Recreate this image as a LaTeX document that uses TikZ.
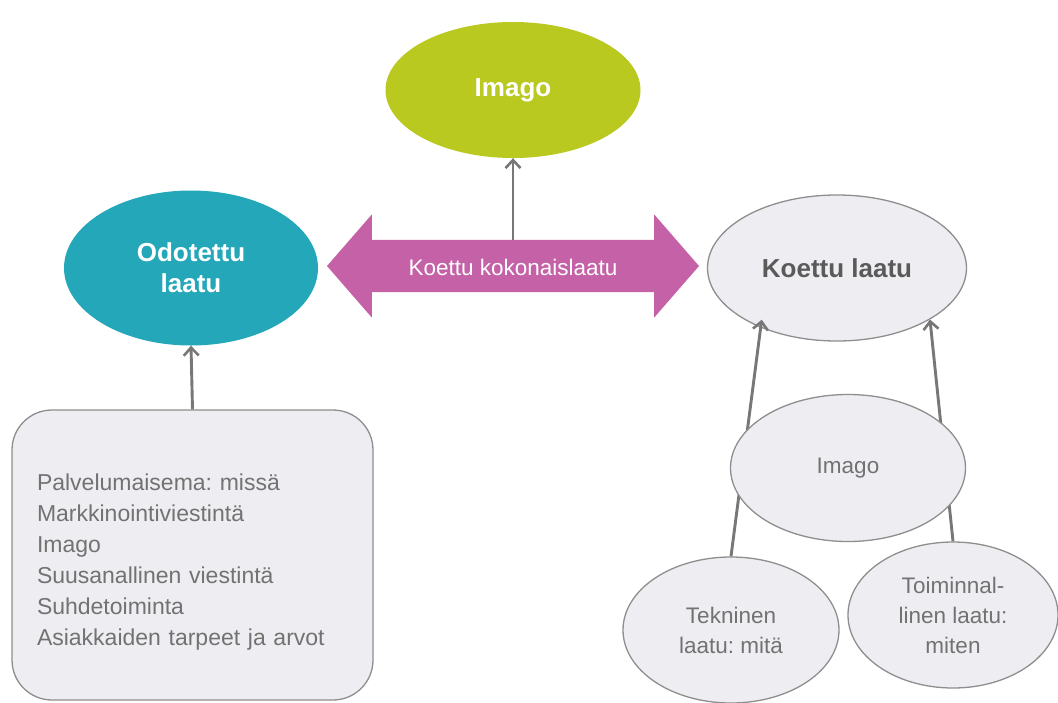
\documentclass[tikz,border=0pt]{standalone}
\usepackage{fontspec}
\setmainfont{Liberation Sans}
\frenchspacing
\usetikzlibrary{shapes.geometric,shapes.arrows,arrows.meta}
\definecolor{imagogreen}{HTML}{B9C920}
\definecolor{odotteal}{HTML}{25A7BA}
\definecolor{kokpink}{HTML}{C561A6}
\definecolor{ellgray}{HTML}{EEEEF2}
\definecolor{bordgray}{HTML}{8E8E8E}
\definecolor{linegray}{HTML}{777777}
\definecolor{textgray}{HTML}{727272}
\definecolor{darkgray}{HTML}{5A5A5A}
\tikzset{
    conn/.style={draw=linegray, line width=2.9pt, -{Straight Barb[length=8pt,width=15pt,line width=2.6pt]}},
    bigell/.style={ellipse, inner sep=0pt, text=white, align=center,
        font=\bfseries\fontsize{26}{31}\selectfont},
    greyell/.style={ellipse, fill=ellgray, draw=bordgray, line width=1.3pt, inner sep=0pt,
        text=textgray, align=center, font=\fontsize{22.5}{30}\selectfont},
    infobox/.style={rectangle, rounded corners=40pt, fill=ellgray, draw=bordgray, line width=1.3pt,
        minimum width=361pt, minimum height=290pt, text width=311pt, inner xsep=25pt,
        text height=31pt, align=left, text=textgray, font=\fontsize{23}{31}\selectfont},
}
\begin{document}
\begin{tikzpicture}[x=1pt, y=-1pt]
    \useasboundingbox (0,0) rectangle (1058,702);
    % top row
    \node[bigell, fill=imagogreen, minimum width=255pt, minimum height=136pt] (imago) at (513,90) {Imago};
    \node[bigell, fill=odotteal, minimum width=254pt, minimum height=155pt] (odot) at (191,268) {Odotettu\\laatu};
    \node[greyell, minimum width=259pt, minimum height=146pt, text=darkgray,
        font=\bfseries\fontsize{26}{31}\selectfont] (koettu) at (837,268) {Koettu laatu};
    \node[double arrow, fill=kokpink, text=white, font=\fontsize{22.5}{30}\selectfont,
        minimum height=372pt, minimum width=103pt, double arrow head extend=25.5pt,
        double arrow tip angle=98, inner ysep=0pt, text height=35pt, text depth=17pt] (kok) at (513,266) {Koettu kokonaislaatu};
    \draw[conn] ([yshift=26pt]kok.center) -- (imago.south);
    % expectations
    \node[infobox] (tekij) at (192.5,555) {Palvelumaisema: missä\\Markkinointiviestintä\\Imago\\Suusanallinen viestintä\\Suhdetoiminta\\Asiakkaiden tarpeet ja arvot};
    \draw[conn] (tekij.north) -- (odot.south);
    % experienced quality
    \node[greyell, minimum width=216pt, minimum height=146pt] (tek) at (731,630) {Tekninen\\laatu: mitä};
    \node[greyell, minimum width=210pt, minimum height=146pt] (toim) at (953,615) {Toiminnal-\\linen laatu:\\miten};
    \draw[conn, shorten >=-8pt] (tek.north) -- (koettu.218);
    \draw[conn] (toim.north) -- (koettu.331);
    \node[greyell, minimum width=235pt, minimum height=147pt] (imago2) at (848,468) {Imago};
\end{tikzpicture}
\end{document}
